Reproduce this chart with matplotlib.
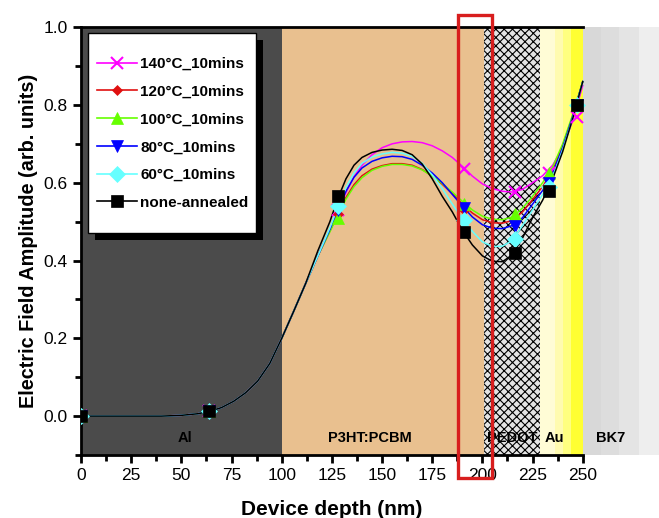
import numpy as np
import matplotlib.pyplot as plt
from matplotlib.patches import Rectangle
from matplotlib.lines import Line2D

plt.rcParams['font.family'] = ['Liberation Sans', 'DejaVu Sans']

# curve sample points
xc = [0, 20, 40, 50, 58, 64, 70, 76, 82, 88, 94, 100, 106, 112, 118,
      124, 128, 132, 136, 140, 145, 150, 155, 160, 165, 170, 175, 180, 185, 190,
      195, 200, 205, 210, 215, 220, 225, 230, 235, 240, 245, 250]
rise = [0, 0, 0, 0.002, 0.006, 0.012, 0.022, 0.038, 0.06, 0.09, 0.135, 0.20, 0.27, 0.342, 0.412]
y_140 = rise + [0.478, 0.528, 0.575, 0.615, 0.645, 0.672, 0.69, 0.70, 0.705, 0.706, 0.703, 0.695, 0.682,
                0.665, 0.642, 0.617, 0.597, 0.585, 0.578, 0.576, 0.583, 0.60, 0.618, 0.645, 0.69, 0.76, 0.85]
y_120 = rise + [0.476, 0.52, 0.562, 0.595, 0.618, 0.635, 0.644, 0.649, 0.649, 0.645, 0.634, 0.617, 0.596,
                0.572, 0.545, 0.522, 0.505, 0.497, 0.496, 0.503, 0.525, 0.557, 0.59, 0.632, 0.695, 0.772, 0.86]
y_100 = rise + [0.474, 0.517, 0.558, 0.59, 0.613, 0.632, 0.642, 0.647, 0.647, 0.643, 0.633, 0.617, 0.598,
                0.576, 0.552, 0.53, 0.514, 0.506, 0.505, 0.512, 0.535, 0.565, 0.60, 0.64, 0.70, 0.775, 0.86]
y_80 = rise + [0.48, 0.53, 0.578, 0.614, 0.638, 0.655, 0.664, 0.668, 0.667, 0.66, 0.645, 0.625, 0.60,
               0.57, 0.54, 0.512, 0.492, 0.483, 0.482, 0.49, 0.51, 0.545, 0.58, 0.625, 0.69, 0.77, 0.86]
y_60 = rise + [0.484, 0.537, 0.588, 0.625, 0.65, 0.666, 0.674, 0.678, 0.676, 0.668, 0.65, 0.62, 0.585,
               0.545, 0.508, 0.475, 0.448, 0.436, 0.437, 0.452, 0.49, 0.53, 0.57, 0.615, 0.685, 0.765, 0.86]
y_none = rise[:-1] + [0.425, 0.50, 0.56, 0.61, 0.645, 0.665, 0.678, 0.684, 0.686, 0.683, 0.672, 0.648, 0.61,
                      0.565, 0.525, 0.478, 0.44, 0.412, 0.398, 0.397, 0.415, 0.458, 0.51, 0.555, 0.61,
                      0.68, 0.765, 0.86]

# marker points
xm = [0, 64, 128, 191, 216, 233, 247]
m_140 = [0, 0.012, 0.53, 0.635, 0.575, 0.625, 0.77]
m_120 = [0, 0.012, 0.52, 0.53, 0.505, 0.61, 0.80]
m_100 = [0, 0.012, 0.51, 0.545, 0.52, 0.625, 0.80]
m_80 = [0, 0.012, 0.53, 0.535, 0.49, 0.60, 0.80]
m_60 = [0, 0.012, 0.54, 0.505, 0.455, 0.59, 0.80]
m_none = [0, 0.012, 0.565, 0.473, 0.42, 0.58, 0.80]

labels = ['140°C_10mins', '120°C_10mins', '100°C_10mins', '80°C_10mins', '60°C_10mins', 'none-annealed']
curves = [y_140, y_120, y_100, y_80, y_60, y_none]
marks = [m_140, m_120, m_100, m_80, m_60, m_none]
colors = ['#ff00ff', '#e01010', '#66ff00', '#0000ff', '#66ffff', 'black']
mstyle = [('x', 8), ('D', 5), ('^', 8), ('v', 9), ('D', 8), ('s', 8)]

# layers
layers = ['Al', 'P3HT:PCBM', 'PEDOT', 'Au', 'BK7']
layer_pos = [52, 144, 215, 236, 264]

fig = plt.figure(figsize=(6.59, 5.18), dpi=100)
ax = fig.add_axes([0.123, 0.1216, 0.877, 0.826])

ax.axvspan(0, 100, color='#4b4b4b', lw=0, zorder=0)
ax.axvspan(100, 200.6, color='#e9c08f', lw=0, zorder=0)
plt.rcParams['hatch.linewidth'] = 0.8
ax.axvspan(200.6, 228.5, facecolor='#e4e4e4', edgecolor='black', hatch='xxxx', lw=0, zorder=0)
for a, b, c in [(228.5, 236, '#fffcd6'), (236, 240, '#fffbb0'), (240, 244, '#ffff80'), (244, 250, '#ffff33')]:
    ax.axvspan(a, b, color=c, lw=0, zorder=0)
for a, b, c in [(250, 259, '#d8d8d8'), (259, 268, '#dddddd'), (268, 278, '#e4e4e4'), (278, 288, '#eeeeee')]:
    ax.axvspan(a, b, color=c, lw=0, zorder=0)

handles = []
for i in range(len(curves)):
    ax.plot(xc, curves[i], color=colors[i], lw=1.1, zorder=3)
    mk, ms = mstyle[i]
    mw = 1.5 if mk == 'x' else 0.5
    ax.plot(xm, marks[i], ls='none', marker=mk, ms=ms, color=colors[i], mew=mw, zorder=4)
    handles.append(Line2D([], [], color=colors[i], lw=1.2, marker=mk, ms=ms, mew=mw))

for name, xp in zip(layers, layer_pos):
    ax.text(xp, -0.055, name, ha='center', va='center', fontsize=10.5, fontweight='bold', zorder=5)

ax.add_patch(Rectangle((187.6, -0.16), 17.4, 1.19, fill=False, edgecolor='#d81e1e', lw=2.4,
                       clip_on=False, zorder=6))

ax.set_xlim(0, 288)
ax.set_ylim(-0.1, 1.0)
ax.spines['right'].set_visible(False)
ax.spines['top'].set_bounds(0, 250)
ax.spines['bottom'].set_bounds(0, 250)
for s in ['top', 'bottom', 'left']:
    ax.spines[s].set_linewidth(2.0)
ax.set_xticks(np.arange(0, 251, 25))
ax.set_xticks(np.arange(12.5, 250, 25), minor=True)
ax.set_yticks(np.arange(0, 1.01, 0.2))
ax.set_yticks([-0.1, 0.1, 0.3, 0.5, 0.7, 0.9], minor=True)
ax.yaxis.set_major_formatter(plt.FormatStrFormatter('%.1f'))
ax.tick_params(which='major', length=6, width=2, labelsize=12.5)
ax.tick_params(which='minor', length=4, width=2)

ax.set_xlabel('Device depth (nm)', fontsize=15, fontweight='bold')
ax.xaxis.set_label_coords(125 / 288, -0.105)
ax.set_ylabel('Electric Field Amplitude (arb. units)', fontsize=14.3, fontweight='bold')

# legend box with a hard black shadow
ax.add_patch(Rectangle((0.024, 0.503), 0.291, 0.467, transform=ax.transAxes, facecolor='black',
                       lw=0, zorder=8))
ax.add_patch(Rectangle((0.0121, 0.519), 0.291, 0.467, transform=ax.transAxes, facecolor='white',
                       edgecolor='black', lw=1.0, zorder=9))
leg = ax.legend(handles, labels, loc='upper left', bbox_to_anchor=(0.028, 0.93),
                prop={'weight': 'bold', 'size': 11}, labelspacing=0.9, handlelength=2.6,
                handletextpad=0.2, borderpad=0.0, borderaxespad=0.0, frameon=False)
leg.set_zorder(10)

plt.savefig('out.png', dpi=100)
